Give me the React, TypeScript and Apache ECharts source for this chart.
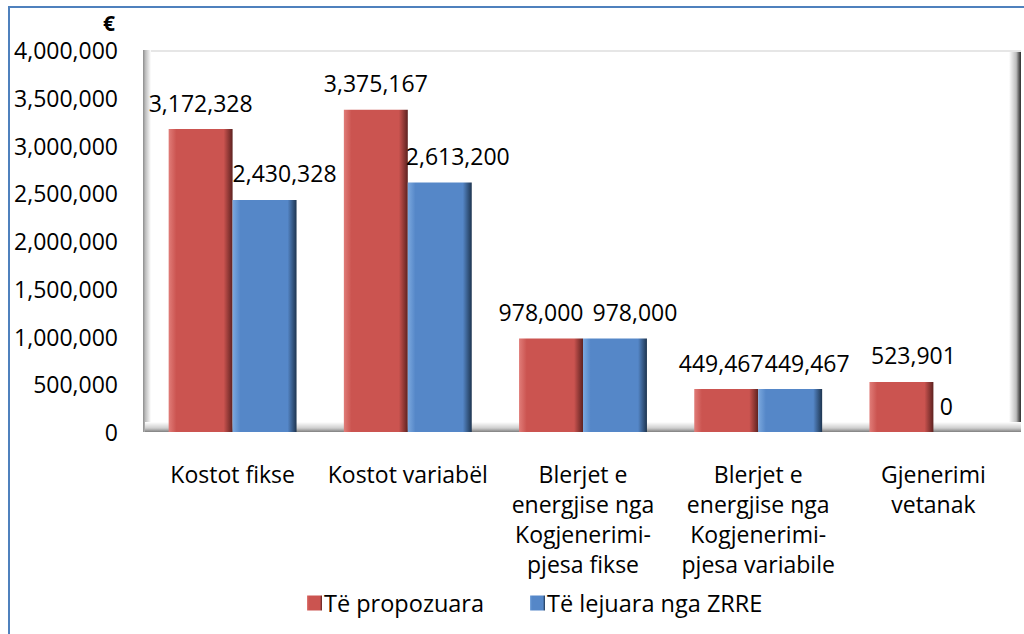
import React, { useEffect, useRef } from "react";
import * as echarts from "echarts";

const categories = [
  "Kostot fikse",
  "Kostot variabël",
  "Blerjet e\nenergjise nga\nKogjenerimi-\npjesa fikse",
  "Blerjet e\nenergjise nga\nKogjenerimi-\npjesa variabile",
  "Gjenerimi\nvetanak",
];
const proposedValues = [3172328, 3375167, 978000, 449467, 523901];
const approvedValues = [2430328, 2613200, 978000, 449467, 0];
const seriesNames = ["Të propozuara", "Të lejuara nga ZRRE"];
const yTicks = { min: 0, max: 4000000, interval: 500000 };

// horizontal nudges of the value labels (layout only)
const proposedLabelShift = [0, 0, -10, -5, 12];
const approvedLabelShift = [20, 18, 20, 17, -19];

const FONT = "'Open Sans', 'Noto Sans', sans-serif";
const fmt = (v: number) => Number(v).toLocaleString("en-US");

const bevel = (light: string, mid: string, dark: string) =>
  new echarts.graphic.LinearGradient(0, 0, 1, 0, [
    { offset: 0, color: light },
    { offset: 0.12, color: mid },
    { offset: 0.86, color: mid },
    { offset: 1, color: dark },
  ]);

export default function App() {
  const ref = useRef<HTMLDivElement>(null);
  useEffect(() => {
    if (!ref.current) return;
    const chart = echarts.init(ref.current, null, { renderer: "svg" });
    const gridL = 145, gridR = 3, gridT = 50, gridB = 202;
    const W = 1024, H = 634;
    const plotRight = W - gridR;
    const plotBottom = H - gridB;
    const labelBase = {
      show: true,
      position: "top",
      distance: 15,
      fontSize: 23,
      color: "#000",
      fontFamily: FONT,
      formatter: (p: any) => fmt(p.value),
    };
    const mkData = (vals: number[], shifts: number[]) =>
      vals.map((v, i) => ({ value: v, label: { offset: [shifts[i], 0] } }));
    chart.setOption({
      animation: false,
      backgroundColor: "#ffffff",
      textStyle: { fontFamily: FONT },
      grid: { left: gridL, right: gridR, top: gridT, bottom: gridB, containLabel: false },
      legend: {
        data: seriesNames,
        bottom: 14,
        left: 302,
        itemWidth: 15,
        itemHeight: 15,
        itemGap: 46,
        icon: "rect",
        textStyle: { fontSize: 23.5, color: "#000", fontFamily: FONT, padding: [0, 0, 0, -3] },
      },
      xAxis: {
        type: "category",
        data: categories,
        axisLine: { show: false },
        axisTick: { show: false },
        axisLabel: {
          interval: 0,
          fontSize: 23,
          lineHeight: 30,
          color: "#000",
          margin: 27,
          fontFamily: FONT,
        },
      },
      yAxis: {
        type: "value",
        min: yTicks.min,
        max: yTicks.max,
        interval: yTicks.interval,
        axisLine: { show: false },
        axisTick: { show: false },
        splitLine: { show: false },
        axisLabel: {
          fontSize: 23,
          color: "#000",
          margin: 27,
          fontFamily: FONT,
          formatter: (v: number) => fmt(v),
        },
      },
      graphic: [
        {
          type: "rect",
          silent: true,
          shape: { x: 9, y: 7, width: 1100, height: 700 },
          style: { fill: "none", stroke: "#4F81BD", lineWidth: 2 },
          z: 0,
        },
        {
          type: "text",
          left: 103,
          top: 12,
          style: { text: "€", fontSize: 21, fontWeight: "bold", fill: "#000", fontFamily: FONT },
        },
        {
          type: "rect",
          silent: true,
          shape: { x: gridL, y: gridT, width: plotRight - gridL, height: 2 },
          style: { fill: "#e6e6e6" },
          z: -1,
        },
        {
          type: "rect",
          silent: true,
          shape: { x: gridL - 2, y: gridT, width: 8, height: plotBottom - gridT },
          style: {
            fill: new echarts.graphic.LinearGradient(0, 0, 1, 0, [
              { offset: 0, color: "#8c8c8c" },
              { offset: 0.3, color: "#bdbdbd" },
              { offset: 1, color: "#ffffff" },
            ]),
          },
          z: -1,
        },
        {
          type: "rect",
          silent: true,
          shape: { x: plotRight - 12, y: gridT + 2, width: 12, height: plotBottom - gridT - 2 },
          style: {
            fill: new echarts.graphic.LinearGradient(0, 0, 1, 0, [
              { offset: 0, color: "#ffffff" },
              { offset: 0.6, color: "#bdbdbd" },
              { offset: 0.85, color: "#5a5a5a" },
              { offset: 1, color: "#303030" },
            ]),
          },
          z: -1,
        },
        {
          type: "rect",
          silent: true,
          shape: { x: gridL, y: plotBottom - 10, width: plotRight - gridL, height: 10 },
          style: {
            fill: new echarts.graphic.LinearGradient(0, 0, 0, 1, [
              { offset: 0, color: "#ffffff" },
              { offset: 0.6, color: "#cfcfcf" },
              { offset: 0.8, color: "#a8a8a8" },
              { offset: 1, color: "#7f7f7f" },
            ]),
          },
          z: -1,
        },
      ],
      series: [
        {
          name: seriesNames[0],
          type: "bar",
          data: mkData(proposedValues, proposedLabelShift),
          barGap: "0%",
          barCategoryGap: "27%",
          itemStyle: { color: bevel("#e07c78", "#cb5450", "#5e2220") },
          label: labelBase,
        },
        {
          name: seriesNames[1],
          type: "bar",
          data: mkData(approvedValues, approvedLabelShift),
          barGap: "0%",
          barCategoryGap: "27%",
          itemStyle: { color: bevel("#7ba8de", "#5587c8", "#1e3550") },
          label: labelBase,
        },
      ],
    });
    return () => chart.dispose();
  }, []);
  return (
    <div
      ref={ref}
      style={{ position: "absolute", left: 0, top: 0, width: 1024, height: 634 }}
    />
  );
}
